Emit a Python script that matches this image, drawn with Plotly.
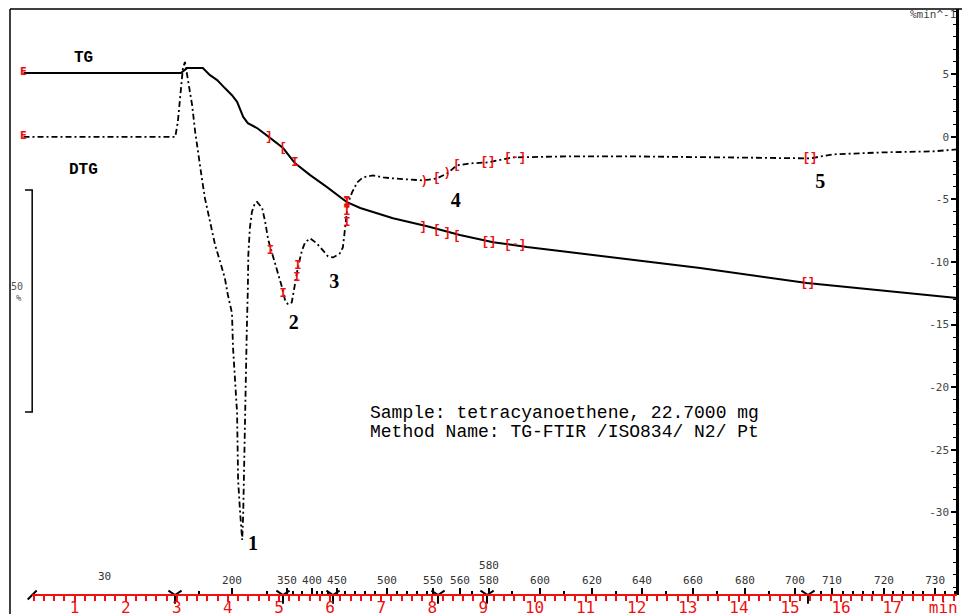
import numpy as np
import plotly.graph_objects as go

# ---------------- data ----------------
tg_time = [0.0, 3.08, 3.20, 3.51, 3.65, 3.79, 3.94, 4.08, 4.18, 4.24, 4.30, 4.39, 4.57,
           4.80, 5.08, 5.31, 5.61, 5.94, 6.33, 6.59, 7.23, 7.90, 8.54, 9.19, 9.85, 10.50,
           11.28, 11.93, 13.24, 15.33, 17.15, 18.27]
tg_mass = [100.0, 100.0, 101.1, 101.1, 99.5, 98.4, 96.6, 95.0, 93.5, 91.7, 90.1, 88.7, 87.6,
           85.6, 83.1, 79.7, 77.0, 74.3, 70.9, 69.6, 67.3, 65.5, 63.5, 61.9, 60.8, 59.9,
           58.8, 57.9, 56.1, 52.7, 50.5, 49.3]

dtg_time = [0.0, 2.97, 3.02, 3.06, 3.10, 3.12, 3.16, 3.22, 3.30, 3.36, 3.42, 3.49, 3.55,
            3.65, 3.75, 3.85, 3.94, 4.00, 4.08, 4.10, 4.14, 4.18, 4.19, 4.20, 4.24, 4.26,
            4.28, 4.30, 4.31, 4.33, 4.34, 4.37, 4.39, 4.40, 4.43, 4.47, 4.53, 4.57, 4.67,
            4.73, 4.79, 4.86, 4.96, 5.06, 5.12, 5.18, 5.25, 5.31, 5.37, 5.45, 5.51, 5.61,
            5.74, 5.86, 5.96, 6.06, 6.19, 6.25, 6.29, 6.33, 6.35, 6.43, 6.53, 6.64, 6.84,
            7.04, 7.23, 7.82, 8.09, 8.29, 8.48, 8.74, 9.09, 9.58, 10.64, 11.93, 13.89,
            14.86, 15.39, 15.84, 16.82, 17.80, 18.27]
dtg_rate = [-0.02, -0.02, 1.17, 2.77, 4.13, 5.49, 5.97, 4.37, 2.53, 0.38, -1.46, -3.30, -4.90,
            -6.81, -8.65, -10.01, -11.29, -12.64, -14.08, -16.80, -19.43, -22.07, -24.78, -27.42, -30.06, -31.66,
            -32.21, -30.06, -27.42, -22.07, -19.43, -15.44, -12.24, -9.44, -7.29, -6.01, -5.29, -5.21, -5.69,
            -6.81, -8.25, -9.24, -10.44, -12.04, -13.08, -13.40, -13.24, -11.72, -10.44, -9.08, -8.44, -8.12,
            -8.52, -9.08, -9.56, -9.64, -9.32, -8.84, -7.48, -6.12, -5.29, -4.45, -3.65, -3.25, -3.09,
            -3.25, -3.33, -3.49, -3.33, -2.93, -2.29, -2.13, -2.05, -1.65, -1.57, -1.57, -1.65,
            -1.73, -1.73, -1.41, -1.25, -1.17, -1.01]

# red evaluation markers on TG / DTG
tg_mark_t = [4.80, 5.08, 5.31, 6.33, 7.82, 8.09, 8.29, 8.48, 9.11, 9.62, 15.35]
tg_mark_v = [85.6, 83.1, 79.7, 70.9, 65.3, 64.6, 64.0, 63.3, 62.0, 61.3, 52.7]
tg_mark_g = ["]", "[", "I", "I", "]", "[", "]", "[", "[]", "[-]", "[]"]
dtg_mark_t = [4.83, 5.08, 5.35, 5.37, 6.33, 6.33, 6.33, 7.84, 8.09, 8.29, 8.48, 9.09, 9.62, 15.39]
dtg_mark_v = [-9.1, -12.6, -11.3, -10.3, -5.3, -6.0, -6.9, -3.5, -3.33, -2.93, -2.29, -2.05, -1.70, -1.73]
dtg_mark_g = ["I", "I", "I", "I", "I", "I", "I", ")", "[", ")", "[", "[]", "[-]", "[]"]

# time axis
time_ticks = list(range(1, 19))
time_text = [str(i) for i in range(1, 18)] + ["min"]

# temperature axis (tick positions in min, labels in degC)
temp_tick_t = [4.08, 5.157, 5.646, 6.135, 7.114, 8.014, 8.542, 9.110, 10.108, 11.125, 12.104,
               13.102, 14.120, 15.098, 15.82, 16.84, 17.84]
temp_tick_lab = ["200", "350", "400", "450", "500", "550", "560", "580<br>580", "600", "620",
                 "640", "660", "680", "700", "710", "720", "730"]
temp_minor_t = [3.434, 4.765, 5.274, 5.450, 5.744, 5.841, 5.959, 6.292, 6.487, 6.683, 6.879,
                7.309, 7.505, 7.701, 7.896, 8.777, 9.560, 10.577, 11.595, 12.573, 13.571,
                14.589, 15.607, 16.04, 16.23, 16.43, 16.63, 17.02, 17.21, 17.41, 17.60,
                18.03, 18.23]
segment_t = [2.965, 5.078, 6.057, 8.112, 9.070, 15.352]

peak_labels = ["1", "2", "3", "4", "5"]
peak_t = [4.49, 5.29, 6.08, 8.46, 15.59]
peak_v = [-32.6, -14.97, -11.7, -5.2, -3.7]

# ---------------- figure ----------------
T0, T1 = -0.264, 18.268
DTG_RANGE = [-36.6, 10.2]
TG_RANGE = [-17.57, 114.41]
RED = "#ee1111"

fig = go.Figure()

fig.add_trace(go.Scatter(x=tg_time, y=tg_mass, mode="lines", yaxis="y2",
                         line=dict(color="black", width=2), hoverinfo="skip", showlegend=False))
fig.add_trace(go.Scatter(x=dtg_time, y=dtg_rate, mode="lines", yaxis="y",
                         line=dict(color="black", width=1.8, dash="6px,3px,2px,3px"),
                         hoverinfo="skip", showlegend=False))

mono = "Liberation Mono"
fig.add_trace(go.Scatter(x=tg_mark_t, y=tg_mark_v, mode="text", text=tg_mark_g, yaxis="y2",
                         texttemplate="<b>%{text}</b>",
                         textfont=dict(color=RED, size=12, family=mono),
                         showlegend=False, hoverinfo="skip"))
fig.add_trace(go.Scatter(x=dtg_mark_t, y=dtg_mark_v, mode="text", text=dtg_mark_g, yaxis="y",
                         texttemplate="<b>%{text}</b>",
                         textfont=dict(color=RED, size=12, family=mono),
                         showlegend=False, hoverinfo="skip"))
# start markers "E"
fig.add_trace(go.Scatter(x=[tg_time[0]], y=[tg_mass[0]], mode="text", text=["<b>E</b>"], yaxis="y2",
                         textfont=dict(color=RED, size=10, family="DejaVu Sans"),
                         showlegend=False, hoverinfo="skip"))
fig.add_trace(go.Scatter(x=[dtg_time[0]], y=[dtg_rate[0]], mode="text", text=["<b>E</b>"], yaxis="y",
                         textfont=dict(color=RED, size=10, family="DejaVu Sans"),
                         showlegend=False, hoverinfo="skip"))

# segment markers on temperature axis
fig.add_trace(go.Scatter(x=segment_t, y=[DTG_RANGE[0]] * len(segment_t), mode="markers",
                         xaxis="x2", yaxis="y", cliponaxis=False,
                         marker=dict(symbol="y-down-open", size=11, color="black",
                                     line=dict(color="black", width=2)),
                         showlegend=False, hoverinfo="skip"))
fig.add_trace(go.Scatter(x=[0.17], y=[DTG_RANGE[0]], mode="markers",
                         xaxis="x2", yaxis="y", cliponaxis=False,
                         marker=dict(symbol="line-ne-open", size=9, color="black",
                                     line=dict(color="black", width=2)),
                         showlegend=False, hoverinfo="skip"))

# peak number labels
fig.add_trace(go.Scatter(x=peak_t, y=peak_v, mode="text", text=peak_labels, yaxis="y",
                         textfont=dict(color="black", size=20, family="Liberation Serif"),
                         texttemplate="<b>%{text}</b>", showlegend=False, hoverinfo="skip"))

fig.update_layout(
    width=962, height=614,
    margin=dict(l=10, r=5, t=9, b=19, autoexpand=False),
    paper_bgcolor="white", plot_bgcolor="white",
    showlegend=False,
    xaxis=dict(range=[T0, T1], showgrid=False, zeroline=False, showline=False,
               tickmode="array", tickvals=time_ticks, ticktext=time_text,
               ticks="outside", ticklen=6, tickwidth=1.5, tickcolor=RED,
               ticklabelstandoff=-8,
               tickfont=dict(color=RED, size=16, family="DejaVu Sans Mono"),
               minor=dict(tickmode="array",
                          tickvals=[round(0.2 * k, 2) for k in range(1, 92) if k % 5 != 0],
                          ticks="outside", ticklen=5, tickwidth=1.5, tickcolor=RED,
                          showgrid=False)),
    xaxis2=dict(range=[T0, T1], overlaying="x", anchor="free", position=0, side="top",
                showgrid=False, zeroline=False, showline=False,
                tickmode="array", tickvals=temp_tick_t, ticktext=temp_tick_lab,
                ticks="outside", ticklen=7, tickwidth=1.5, tickcolor="black",
                tickfont=dict(color="#333333", size=11, family="DejaVu Sans Mono"),
                minor=dict(tickmode="array", tickvals=temp_minor_t, ticks="outside",
                           ticklen=4, tickwidth=1.5, tickcolor="black", showgrid=False)),
    yaxis=dict(range=DTG_RANGE, side="left", anchor="free", position=1,
               showgrid=False, zeroline=False,
               showline=True, linecolor="black", linewidth=2.5,
               tickmode="array", tickvals=[-30, -25, -20, -15, -10, -5, 0, 5],
               ticktext=["-30", "-25", "-20", "-15", "-10", "-5", "0", "5"],
               ticks="outside", ticklen=5, tickwidth=1.5, tickcolor="black",
               tickfont=dict(color="#444444", size=11, family="DejaVu Sans Mono"),
               minor=dict(dtick=1, tick0=0, ticks="outside", ticklen=3, tickwidth=1.2,
                          tickcolor="black", showgrid=False)),
    yaxis2=dict(range=TG_RANGE, overlaying="y", visible=False),
)

# red time axis line and frame
fig.add_shape(type="line", xref="x", yref="paper", x0=0.17, x1=T1, y0=0, y1=0,
              line=dict(color=RED, width=2))
fig.add_shape(type="line", xref="paper", yref="paper", x0=0, x1=1.01, y0=1, y1=1,
              line=dict(color="black", width=1.5))
fig.add_shape(type="line", xref="paper", yref="paper", x0=0, x1=0, y0=1, y1=-0.04,
              line=dict(color="black", width=1.5))
# 50 % scale bar (in TG units)
fig.add_shape(type="path", xref="x", yref="y2",
              path="M 0.03 73.65 L 0.17 73.65 L 0.17 23.65 L 0.03 23.65",
              line=dict(color="black", width=1.5))

ann = [
    dict(text="TG", x=0.0771, y=0.9164, font=dict(size=16, family=mono, color="black"), bold=True),
    dict(text="DTG", x=0.0781, y=0.7253, font=dict(size=16, family=mono, color="black"), bold=True),
    dict(text="50", x=0.0074, y=0.5256, font=dict(size=10, family="DejaVu Sans Mono", color="#555")),
    dict(text="%", x=0.0095, y=0.5068, font=dict(size=9, family="DejaVu Sans Mono", color="#555")),
    dict(text="30", x=0.0993, y=0.031, font=dict(size=11, family="DejaVu Sans Mono", color="#333")),
]
for a in ann:
    txt = "<b>%s</b>" % a["text"] if a.get("bold") else a["text"]
    fig.add_annotation(text=txt, x=a["x"], y=a["y"], xref="paper", yref="paper",
                       showarrow=False, font=a["font"], xanchor="center", yanchor="middle")

fig.add_annotation(text="Sample: tetracyanoethene, 22.7000 mg", x=0.378, y=0.3106,
                   xref="paper", yref="paper", showarrow=False, xanchor="left", yanchor="middle",
                   font=dict(size=18, family=mono, color="black"))
fig.add_annotation(text="Method Name: TG-FTIR /ISO834/ N2/ Pt", x=0.378, y=0.278,
                   xref="paper", yref="paper", showarrow=False, xanchor="left", yanchor="middle",
                   font=dict(size=18, family=mono, color="black"))
fig.add_annotation(text="%min^-1", x=0.948, y=0.99, xref="paper", yref="paper",
                   showarrow=False, xanchor="left", yanchor="middle",
                   font=dict(size=11, family="DejaVu Sans Mono", color="#444"))

fig.write_html("out.html", config={"displayModeBar": False},
               post_script="document.body.style.margin='0';document.body.style.overflow='hidden';")
